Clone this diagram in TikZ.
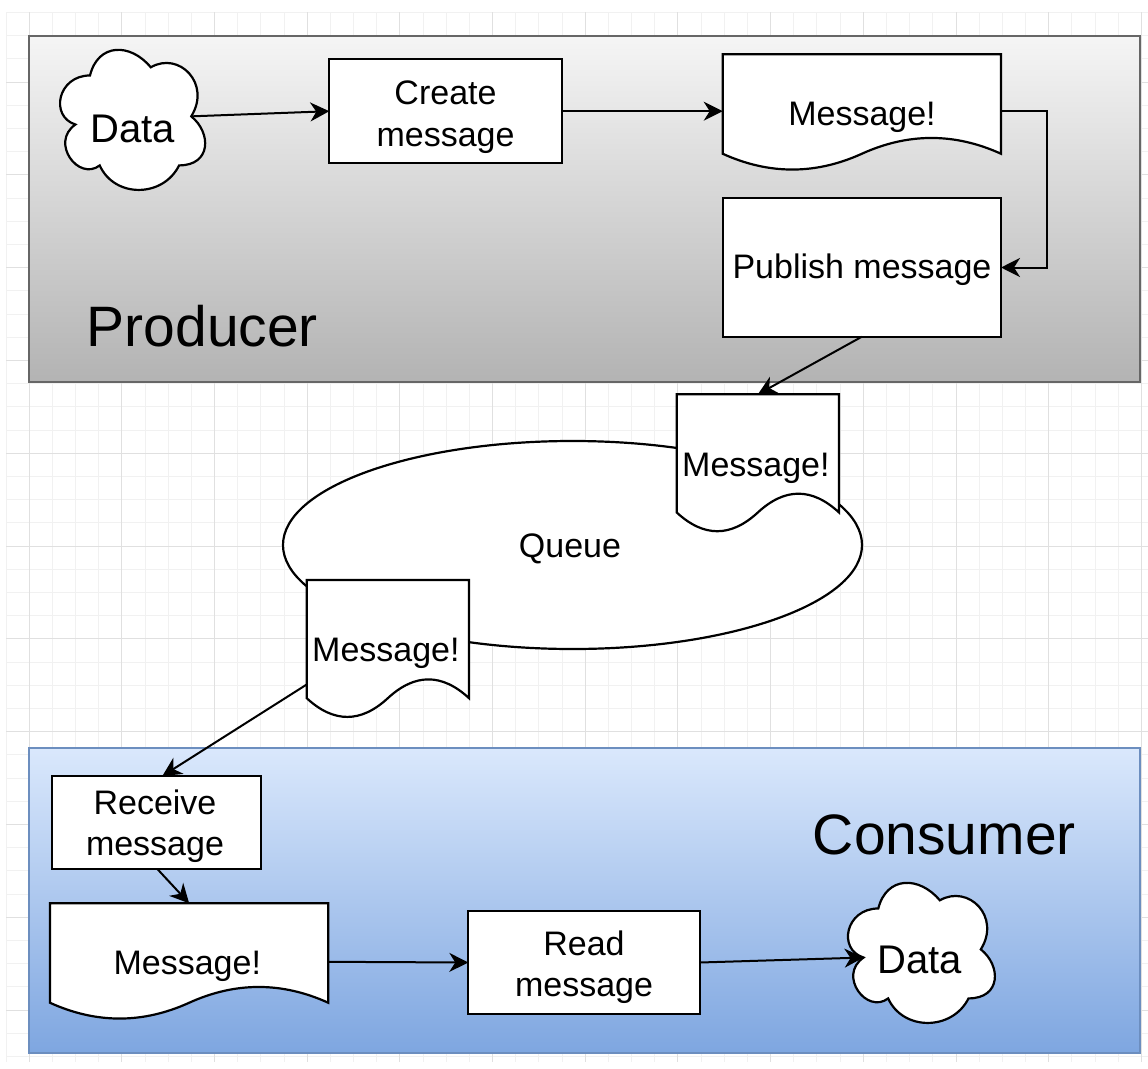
\documentclass[tikz,border=0pt]{standalone}
\usepackage{fontspec}
\setmainfont{Liberation Sans}
\usetikzlibrary{arrows.meta,shapes.geometric,calc}

\definecolor{gridminor}{RGB}{241,241,241}
\definecolor{gridmajor}{RGB}{224,224,224}
\definecolor{prodtop}{RGB}{245,245,245}
\definecolor{prodbot}{RGB}{179,179,179}
\definecolor{prodline}{RGB}{102,102,102}
\definecolor{constop}{RGB}{218,232,252}
\definecolor{consbot}{RGB}{126,166,224}
\definecolor{consline}{RGB}{108,142,191}

\tikzset{
  shapeline/.style={draw=black, line width=2.2pt, fill=white},
  boxnode/.style={shapeline, rectangle, inner sep=0pt, outer sep=0pt},
  holder/.style={rectangle, inner sep=0pt, outer sep=0pt},
  txt/.style={inner sep=0pt, outer sep=0pt, anchor=base, font=\fontsize{34}{40}\selectfont},
  bigtxt/.style={inner sep=0pt, outer sep=0pt, anchor=base, font=\fontsize{40}{48}\selectfont},
  labeltxt/.style={inner sep=0pt, outer sep=0pt, anchor=base, font=\fontsize{57}{68}\selectfont},
  conn/.style={draw=black, line width=2pt, -{Stealth[length=19pt,width=19pt,inset=6pt]}},
  gridminorline/.style={draw=gridminor, line width=1pt},
  gridmajorline/.style={draw=gridmajor, line width=1pt},
}

% document shape (draw.io style): name, x0, y0, w, h
\newcommand\mydocshape[5]{%
  \pgfmathsetmacro\dXa{#2}%
  \pgfmathsetmacro\dXb{#2+#4}%
  \pgfmathsetmacro\dXm{#2+#4/2}%
  \pgfmathsetmacro\dXc{#2+5*#4/6}%
  \pgfmathsetmacro\dXd{#2+2*#4/3}%
  \pgfmathsetmacro\dXe{#2+#4/3}%
  \pgfmathsetmacro\dXf{#2+#4/6}%
  \pgfmathsetmacro\dYt{#3}%
  \pgfmathsetmacro\dYa{#3+0.85*#5}%
  \pgfmathsetmacro\dYb{#3+0.67*#5}%
  \pgfmathsetmacro\dYc{#3+1.03*#5}%
  \pgfmathsetmacro\dYo{#3+#5/2}%
  \draw[shapeline] (\dXa,\dYt) -- (\dXb,\dYt) -- (\dXb,\dYa)
     .. controls (\dXc,\dYb) and (\dXd,\dYb) .. (\dXm,\dYa)
     .. controls (\dXe,\dYc) and (\dXf,\dYc) .. (\dXa,\dYa) -- cycle;
  \node[holder, minimum width=#4pt, minimum height=#5pt] (#1) at (\dXm,\dYo) {};
}

% cloud shape (draw.io style): name, x0, y0, w, h
\newcommand\mycloudshape[5]{%
  \begin{scope}[shift={(#2,#3)}, xscale=#4, yscale=#5]
    \draw[shapeline] (0.25,0.25)
      .. controls (0.05,0.25) and (0,0.5) .. (0.16,0.55)
      .. controls (0,0.66) and (0.18,0.9) .. (0.31,0.8)
      .. controls (0.4,1) and (0.7,1) .. (0.8,0.8)
      .. controls (1,0.8) and (1,0.6) .. (0.875,0.5)
      .. controls (1,0.3) and (0.8,0.1) .. (0.625,0.2)
      .. controls (0.5,0.05) and (0.3,0.05) .. (0.25,0.25) -- cycle;
    \coordinate (#1-out) at (0.875,0.5);
    \coordinate (#1-in) at (0.16,0.55);
    \node[holder, minimum width=#4pt, minimum height=#5pt] (#1) at (0.5,0.5) {};
  \end{scope}
}

\begin{document}
\begin{tikzpicture}[x=1pt,y=-1pt]
\useasboundingbox (0,0) rectangle (1148,1068);
\fill[white] (0,0) rectangle (1148,1068);

% background grid
\foreach \k in {-1,...,48} \draw[gridminorline] ({29.2+23.17*\k},12) -- ({29.2+23.17*\k},1062);
\foreach \k in {-3,...,43} \draw[gridminorline] (6,{82+23.2*\k}) -- (1148,{82+23.2*\k});
\foreach \k in {0,...,12} \draw[gridmajorline] ({29.2+92.68*\k},12) -- ({29.2+92.68*\k},1062);
\foreach \k in {0,...,10} \draw[gridmajorline] (6,{82+92.8*\k}) -- (1148,{82+92.8*\k});

% frames
\node[rectangle, inner sep=0pt, outer sep=0pt, draw=prodline, line width=2pt,
      top color=prodtop, bottom color=prodbot,
      minimum width=1110.7pt, minimum height=346pt] (producer) at (584.65,208.85) {};
\node[rectangle, inner sep=0pt, outer sep=0pt, draw=consline, line width=2pt,
      top color=constop, bottom color=consbot,
      minimum width=1110.7pt, minimum height=305pt] (consumer) at (584.65,900.8) {};

\node[labeltxt] (prodlabel) at (202.3,346.7) {Producer};
\node[labeltxt] (conslabel) at (944.4,854) {Consumer};

% producer content
\mycloudshape{dataA}{49.5}{34.6}{162}{163.5}
\node[bigtxt] (dataAtxt) at (132.5,142) {Data};

\node[boxnode, minimum width=232.4pt, minimum height=104.3pt] (create) at (445.5,111.2) {};
\node[txt] (createtxtA) at (445.5,104) {Create};
\node[txt] (createtxtB) at (445.5,146) {message};

\mydocshape{msgA}{722.7}{54.3}{278.3}{117}
\node[txt] (msgAtxt) at (862,125) {Message!};

\node[boxnode, minimum width=278.3pt, minimum height=138.4pt] (pub) at (861.85,267.5) {};
\node[txt] (pubtxt) at (862,278) {Publish message};

% queue
\node[ellipse, shapeline, inner sep=0pt, outer sep=0pt,
      minimum width=579pt, minimum height=208pt] (queue) at (572.5,545) {};
\node[txt] (queuetxt) at (570,557.7) {Queue};

\mydocshape{qdocA}{676.7}{394.3}{162.3}{139}
\node[txt] (qdocAtxt) at (755.9,476.7) {Message!};

\mydocshape{qdocB}{306.7}{580}{162.3}{139}
\node[txt] (qdocBtxt) at (385.9,661.7) {Message!};

% consumer content
\node[boxnode, minimum width=209.3pt, minimum height=93pt] (recv) at (156.35,822.5) {};
\node[txt] (recvtxtA) at (155,814) {Receive};
\node[txt] (recvtxtB) at (155,855) {message};

\mydocshape{cdoc}{50}{903.3}{278.3}{117}
\node[txt] (cdoctxt) at (187.3,974) {Message!};

\node[boxnode, minimum width=231.7pt, minimum height=103.6pt] (read) at (584.15,962.5) {};
\node[txt] (readtxtA) at (584,955) {Read};
\node[txt] (readtxtB) at (584,996.7) {message};

\mycloudshape{dataB}{837.3}{867.6}{164}{163.5}
\node[bigtxt] (dataBtxt) at (919.5,973) {Data};

% connectors
\draw[conn] (dataA-out) -- (create.west);
\draw[conn] (create.east) -- (create.east -| msgA.west);
\draw[conn] (create.east -| msgA.east) -- ++(46,0) |- (pub.east);
\draw[conn] (pub.south) -- (qdocA.north);
\draw[conn] ($(qdocB.west)+(0,35)$) -- ($(recv.north)+(6,0)$);
\draw[conn] ($(recv.south)+(1,0)$) -- (cdoc.north);
\draw[conn] (cdoc.east) -- (read.west);
\draw[conn] (read.east) -- (dataB-in);
\end{tikzpicture}
\end{document}
